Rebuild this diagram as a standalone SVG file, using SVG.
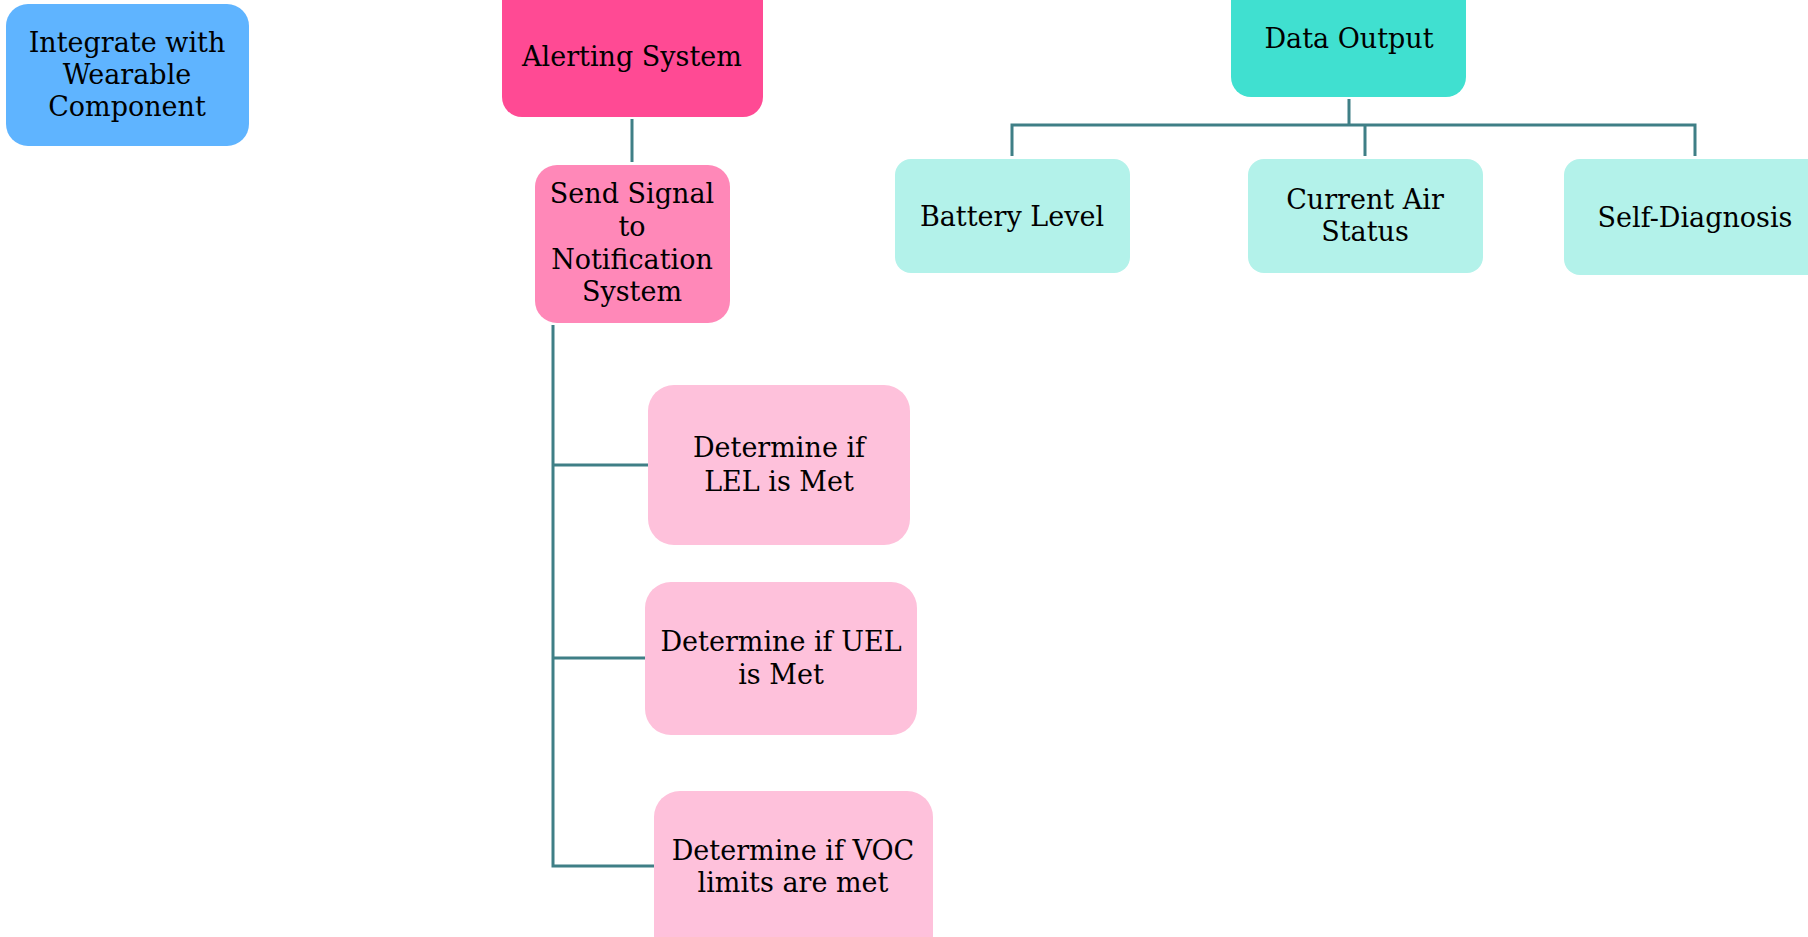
<svg xmlns="http://www.w3.org/2000/svg" width="1808" height="937" viewBox="0 0 1808 937">
<style>
text{font-family:"DejaVu Serif","Liberation Serif",serif;font-size:27px;fill:#000;text-anchor:middle}
.conn{fill:none;stroke:#3f7f86;stroke-width:3}
.blue{fill:#5fb4ff}
.alert{fill:#ff4a94}
.send{fill:#ff88b8}
.det{fill:#fec1db}
.data{fill:#40e0d0}
.dchild{fill:#b3f2ea}
</style>
<rect width="1808" height="937" fill="#fff"/>
<g id="connectors">
<path class="conn" d="M632 119V162"/>
<path class="conn" d="M553 325V866H654M553 465H648M553 658H645"/>
<path class="conn" d="M1349 99V125M1012 156V125H1695V156M1365 125V156"/>
</g>
<g id="integrate"><rect class="blue" x="6" y="4" width="243" height="142" rx="22"/>
<text x="127" y="52">Integrate with</text><text x="127" y="84">Wearable</text><text x="127" y="116">Component</text></g>
<g id="alerting"><rect class="alert" x="502" y="-30" width="261" height="147" rx="20"/>
<text x="632" y="66">Alerting System</text></g>
<g id="send"><rect class="send" x="535" y="165" width="195" height="158" rx="22"/>
<text x="632" y="203">Send Signal</text><text x="632" y="236">to</text><text x="632" y="269">Notification</text><text x="632" y="301">System</text></g>
<g id="lel"><rect class="det" x="648" y="385" width="262" height="160" rx="26"/>
<text x="779" y="457">Determine if</text><text x="779" y="491">LEL is Met</text></g>
<g id="uel"><rect class="det" x="645" y="582" width="272" height="153" rx="26"/>
<text x="781" y="651">Determine if UEL</text><text x="781" y="684">is Met</text></g>
<g id="voc"><rect class="det" x="654" y="791" width="279" height="170" rx="26"/>
<text x="793" y="860">Determine if VOC</text><text x="793" y="892">limits are met</text></g>
<g id="data-output"><rect class="data" x="1231" y="-30" width="235" height="127" rx="20"/>
<text x="1349" y="48">Data Output</text></g>
<g id="battery"><rect class="dchild" x="895" y="159" width="235" height="114" rx="16"/>
<text x="1012" y="226">Battery Level</text></g>
<g id="air"><rect class="dchild" x="1248" y="159" width="235" height="114" rx="16"/>
<text x="1365" y="209">Current Air</text><text x="1365" y="241">Status</text></g>
<g id="self"><rect class="dchild" x="1564" y="159" width="262" height="116" rx="16"/>
<text x="1695" y="227">Self-Diagnosis</text></g>
</svg>
